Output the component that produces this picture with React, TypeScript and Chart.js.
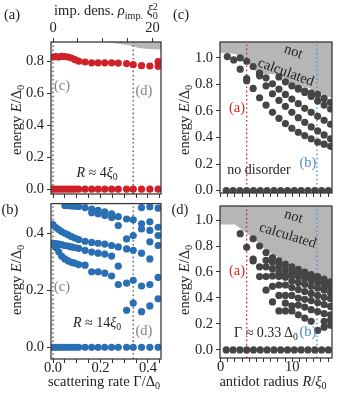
import React, { useEffect, useRef } from 'react';
import { Chart, registerables } from 'chart.js';
Chart.register(...registerables);

const SERIF = '"Liberation Serif", "DejaVu Serif", serif';
const RED = '#cf2129';
const BLUE = '#2a6fb4';
const DARK = '#454545';
const GRAY_FILL = '#b6b6b6';
const LINE_RED = '#d62728';
const LINE_BLUE = '#4a8dcc';
const LINE_DARK = '#555555';

// ---------- (a), (b): scattering rate Γ/Δ0 ----------
const GAMMA = [0, 0.012, 0.024, 0.036, 0.05, 0.064, 0.078, 0.092, 0.108, 0.135, 0.163, 0.19, 0.218, 0.247, 0.275, 0.31, 0.338, 0.373, 0.408, 0.443];
const ZERO_G = [0, 0, 0, 0, 0, 0, 0, 0, 0, 0, 0, 0, 0, 0, 0, 0, 0, 0, 0, 0];
const A_UPPER = [0.826, 0.828, 0.826, 0.83, 0.829, 0.826, 0.82, 0.81, 0.8, 0.795, 0.79, 0.79, 0.79, 0.79, 0.788, 0.785, 0.778, 0.772, 0.77, 0.768];
const A_EXTRA_G = [0.443];
const A_EXTRA_E = [0.797];
const A_CUT_G = [0.2, 0.225, 0.26, 0.3, 0.32, 0.34, 0.36, 0.4, 0.47];
const A_CUT_E = [0.925, 0.918, 0.912, 0.905, 0.9, 0.893, 0.882, 0.876, 0.872];
const GAMMA_MARKS = [0, 0.338];

const B_T1 = [null, null, null, null, 0.497, 0.497, 0.496, 0.495, 0.494, 0.49, 0.485, 0.48, 0.475, 0.468, 0.458];
const B_T2 = [null, null, null, null, null, null, null, null, null, null, 0.472, 0.468, 0.462, 0.455, 0.427];
const B_P = [0.43, 0.42, 0.413, 0.406, 0.4, 0.394, 0.388, 0.383, 0.378, 0.372, 0.368, 0.365, 0.362, 0.357, 0.352];
const B_Q = [0.365, 0.364, 0.362, 0.36, 0.357, 0.355, 0.352, 0.35, 0.347, 0.34, 0.334, 0.33, 0.327, 0.32, 0.285];
const B_R = [0.36, 0.35, 0.335, 0.32, 0.31, 0.303, 0.298, 0.295, 0.29, 0.288, 0.265, 0.265, 0.26, 0.25, 0.22];
const B_RIGHT_G = [0.31, 0.338, 0.373, 0.408, 0.443];
const B_RIGHT_E = [
  [0.45, 0.38, 0.345, 0.225, 0.13],
  [0.447, 0.392, 0.34, 0.235, 0.155],
  [0.49, 0.433, 0.415, 0.33, 0.215, 0.125],
  [0.493, 0.44, 0.41, 0.37, 0.31, 0.22, 0.145],
  [0.488, 0.421, 0.392, 0.357, 0.245, 0.17],
];

// ---------- (c), (d): antidot radius R/ξ0 ----------
const R_COLS = [0.95, 1.85, 2.75, 3.65, 4.55, 5.45, 6.35, 7.25, 8.15, 9.05, 9.95, 10.85, 11.75, 12.65, 13.55, 14.45, 15.35];
const R_ZERO = [0.8, 1.75, 2.7, 3.65, 4.6, 5.55, 6.5, 7.45, 8.4, 9.35, 10.3, 11.25, 12.2, 13.15, 14.1, 15.05];
const ZERO_R = [0, 0, 0, 0, 0, 0, 0, 0, 0, 0, 0, 0, 0, 0, 0, 0];
const C_A = [1.01, 0.985, 0.915, 0.845, 0.77, 0.7, 0.645, 0.59, 0.545, 0.505, 0.47, 0.44, 0.415, 0.39, 0.365, 0.35, 0.334];
const C_B = [null, null, 1.0, 0.975, 0.935, 0.865, 0.79, 0.73, 0.68, 0.635, 0.59, 0.55, 0.515, 0.48, 0.45, 0.42, 0.39];
const C_C = [null, null, null, null, null, 0.885, 0.85, 0.805, 0.765, 0.725, 0.69, 0.655, 0.62, 0.59, 0.56, 0.53, 0.5];
const C_D = [null, null, null, null, null, null, null, null, 0.857, 0.82, 0.79, 0.765, 0.74, 0.71, 0.675, 0.645, 0.615];
const C_E = [null, null, null, null, null, null, null, null, null, null, null, 0.77, 0.75, 0.735, 0.725, 0.695, 0.665];
const C_EXTRA_R = [3.65];
const C_EXTRA_E = [0.828];
const C_CUT_R = [-0.2, 1.2, 2.0, 2.8, 3.5, 4.2, 4.9, 5.3, 8.5, 9.3, 10.3, 10.5, 12.4, 13.0, 14.0, 14.3, 15.8];
const C_CUT_E = [1.04, 1.035, 1.03, 1.015, 0.99, 0.95, 0.9, 0.88, 0.875, 0.81, 0.8, 0.785, 0.775, 0.75, 0.74, 0.715, 0.7];

const D_COL_R = [2.75, 3.65, 4.55, 5.45, 6.35, 7.25, 8.15, 9.05, 9.95, 10.85, 11.75, 12.65, 13.55, 14.45, 15.35];
const D_COL_E = [
  [0.895],
  [0.79],
  [0.855, 0.7, 0.685],
  [0.8, 0.64, 0.565],
  [0.75, 0.69, 0.64, 0.565, 0.46],
  [0.71, 0.675, 0.625, 0.57, 0.49, 0.37],
  [0.685, 0.645, 0.6, 0.565, 0.5, 0.42, 0.3],
  [0.66, 0.62, 0.58, 0.56, 0.5, 0.42, 0.36, 0.3],
  [0.64, 0.6, 0.575, 0.53, 0.48, 0.42, 0.34, 0.3],
  [0.62, 0.595, 0.565, 0.52, 0.465, 0.4, 0.345, 0.27],
  [0.6, 0.58, 0.55, 0.505, 0.45, 0.39, 0.33, 0.245],
  [0.58, 0.565, 0.535, 0.49, 0.435, 0.38, 0.31, 0.22],
  [0.565, 0.55, 0.52, 0.475, 0.42, 0.365, 0.295, 0.15],
  [0.545, 0.53, 0.5, 0.46, 0.405, 0.35, 0.28, 0.22, 0.175],
  [0.525, 0.51, 0.48, 0.44, 0.395, 0.335, 0.27, 0.23, 0.19],
];
const D_CUT_R = [-0.2, 2.0, 2.4, 3.0, 4.4, 6.3, 8.2, 10.5, 13.3, 15.8];
const D_CUT_E = [0.965, 0.965, 0.95, 0.925, 0.87, 0.77, 0.705, 0.64, 0.578, 0.535];
const R_MARK_RED = 3.65;
const R_MARK_BLUE = 13.45;

// ---------- helpers ----------
type Pt = { x: number; y: number };
function pts(xs: number[], ys: (number | null)[]): Pt[] {
  const out: Pt[] = [];
  xs.forEach((x, i) => {
    const y = ys[i];
    if (y !== null && y !== undefined) out.push({ x, y });
  });
  return out;
}
function colPts(xs: number[], yss: number[][]): Pt[] {
  const out: Pt[] = [];
  xs.forEach((x, i) => yss[i].forEach((y) => out.push({ x, y })));
  return out;
}
const dots = (data: Pt[], color: string) => ({
  data, showLine: false, pointRadius: 3.6, pointHoverRadius: 3.6, pointBorderWidth: 0,
  pointBackgroundColor: color, borderColor: color, backgroundColor: color, order: 1,
});
const vline = (x: number, y0: number, y1: number, color: string) => ({
  data: [{ x, y: y0 }, { x, y: y1 }], showLine: true, pointRadius: 0, borderColor: color,
  borderWidth: 1.3, borderDash: [1.6, 2.6], fill: false, order: 2,
});
const region = (data: Pt[]) => ({
  data, showLine: true, pointRadius: 0, borderWidth: 0, borderColor: 'rgba(0,0,0,0)',
  backgroundColor: GRAY_FILL, fill: 'end', tension: 0, order: 3,
});

const framePlugin = {
  id: 'frame',
  afterDraw(chart: any) {
    const { ctx, chartArea: a } = chart;
    ctx.save();
    ctx.strokeStyle = '#3a3a3a';
    ctx.lineWidth = 1.3;
    ctx.strokeRect(a.left, a.top, a.right - a.left, a.bottom - a.top);
    ctx.restore();
  },
};

function axis(o: any) {
  return {
    type: 'linear', position: o.pos, min: o.min, max: o.max, display: true,
    border: { display: false },
    grid: { drawOnChartArea: false, drawTicks: true, tickLength: o.tick ?? 4, color: '#333', tickColor: '#333', tickWidth: 1 },
    ticks: {
      stepSize: o.step, includeBounds: false, autoSkip: false, maxRotation: 0, minRotation: 0,
      maxTicksLimit: 100, padding: o.pad ?? 3, color: '#222',
      font: { family: SERIF, size: 14.5, lineHeight: 1 }, callback: o.fmt,
    },
    afterFit: (s: any) => {
      if (s.isHorizontal()) s.height = o.size; else s.width = o.size;
      s.paddingLeft = 0; s.paddingRight = 0; s.paddingTop = 0; s.paddingBottom = 0;
    },
  };
}
const fmt1 = (v: number) => v.toFixed(1);
const none = () => '';
const fmtGamma = (v: number) => (Math.abs(v * 5 - Math.round(v * 5)) < 1e-6 ? v.toFixed(1) : '');
const fmtRho = (v: number) => (Math.abs(v) < 1e-9 || Math.abs(v - 20) < 1e-9 ? String(Math.round(v)) : '');
const fmtR = (v: number) => (Math.abs(v) < 1e-9 || Math.abs(v - 10) < 1e-9 ? String(Math.round(v)) : '');

function makeConfig(datasets: any[], scales: any, padding: any) {
  return {
    type: 'line',
    data: { datasets },
    options: {
      animation: false, responsive: false, devicePixelRatio: 1, events: [],
      layout: { padding },
      plugins: { legend: { display: false }, tooltip: { enabled: false } },
      scales,
    },
    plugins: [framePlugin],
  } as any;
}

const G_MIN = -0.0085, G_MAX = 0.455;
const RHO_PER_G = 20 / 0.419;
const R_MIN = -0.07, R_MAX = 15.55;

function configA() {
  const yMin = -0.03, yMax = 0.92;
  return makeConfig(
    [
      region(pts(A_CUT_G, A_CUT_E)),
      ...GAMMA_MARKS.map((g) => vline(g, yMin, yMax, LINE_DARK)),
      dots(pts(GAMMA, ZERO_G), RED),
      dots(pts(GAMMA, A_UPPER), RED),
      dots(pts(A_EXTRA_G, A_EXTRA_E), RED),
    ],
    {
      x: axis({ pos: 'bottom', min: G_MIN, max: G_MAX, step: 0.05, size: 6, fmt: none }),
      x2: axis({ pos: 'top', min: G_MIN * RHO_PER_G, max: G_MAX * RHO_PER_G, step: 5, size: 42, pad: 3, fmt: fmtRho }),
      y: axis({ pos: 'left', min: yMin, max: yMax, step: 0.2, size: 51, fmt: fmt1 }),
    },
    { left: 0, right: 9, top: 0, bottom: 0 }
  );
}

function configB() {
  const yMin = -0.041, yMax = 0.504;
  return makeConfig(
    [
      ...GAMMA_MARKS.map((g) => vline(g, yMin, yMax, LINE_DARK)),
      dots(pts(GAMMA, ZERO_G), BLUE),
      dots(pts(GAMMA, B_T1), BLUE),
      dots(pts(GAMMA, B_T2), BLUE),
      dots(pts(GAMMA, B_P), BLUE),
      dots(pts(GAMMA, B_Q), BLUE),
      dots(pts(GAMMA, B_R), BLUE),
      dots(colPts(B_RIGHT_G, B_RIGHT_E), BLUE),
    ],
    {
      x: axis({ pos: 'bottom', min: G_MIN, max: G_MAX, step: 0.05, size: 41, pad: -2, fmt: fmtGamma }),
      y: axis({ pos: 'left', min: yMin, max: yMax, step: 0.2, size: 51, fmt: fmt1 }),
    },
    { left: 0, right: 9, top: 3, bottom: 0 }
  );
}

function configC() {
  const yMin = -0.018, yMax = 1.12;
  return makeConfig(
    [
      region(pts(C_CUT_R, C_CUT_E)),
      vline(R_MARK_RED, yMin, yMax, LINE_RED),
      vline(R_MARK_BLUE, yMin, yMax, LINE_BLUE),
      dots(pts(R_ZERO, ZERO_R), DARK),
      dots(pts(R_COLS, C_A), DARK),
      dots(pts(R_COLS, C_B), DARK),
      dots(pts(R_COLS, C_C), DARK),
      dots(pts(R_COLS, C_D), DARK),
      dots(pts(R_COLS, C_E), DARK),
      dots(pts(C_EXTRA_R, C_EXTRA_E), DARK),
    ],
    {
      x: axis({ pos: 'bottom', min: R_MIN, max: R_MAX, step: 1, size: 7, fmt: none }),
      y: axis({ pos: 'left', min: yMin, max: yMax, step: 0.2, size: 50, fmt: fmt1 }),
    },
    { left: 0, right: 8, top: 42, bottom: 0 }
  );
}

function configD() {
  const yMin = -0.062, yMax = 1.108;
  return makeConfig(
    [
      region(pts(D_CUT_R, D_CUT_E)),
      vline(R_MARK_RED, yMin, yMax, LINE_RED),
      vline(R_MARK_BLUE, yMin, yMax, LINE_BLUE),
      dots(pts(R_ZERO, ZERO_R), DARK),
      dots(colPts(D_COL_R, D_COL_E), DARK),
    ],
    {
      x: axis({ pos: 'bottom', min: R_MIN, max: R_MAX, step: 1, size: 42, pad: -2, fmt: fmtR }),
      y: axis({ pos: 'left', min: yMin, max: yMax, step: 0.2, size: 50, fmt: fmt1 }),
    },
    { left: 0, right: 8, top: 6, bottom: 0 }
  );
}

function ChartCanvas({ left, top, width, height, make }: any) {
  const ref = useRef<HTMLCanvasElement>(null);
  useEffect(() => {
    const chart = new Chart(ref.current as HTMLCanvasElement, make());
    return () => chart.destroy();
  }, []);
  return <canvas ref={ref} width={width} height={height} style={{ position: 'absolute', left, top, width, height }} />;
}

function T({ x, y, children, color = '#222', size = 14.5, rot = 0, style = {} }: any) {
  return (
    <div
      style={{
        position: 'absolute', left: x, top: y, transform: `translate(-50%, -50%) rotate(${rot}deg)`,
        whiteSpace: 'nowrap', fontFamily: SERIF, fontSize: size, color, lineHeight: 1, ...style,
      }}
    >
      {children}
    </div>
  );
}
const Sub = ({ c }: any) => <span style={{ fontSize: '0.7em', position: 'relative', top: '0.3em' }}>{c}</span>;
const EnergyLabel = () => (
  <span>energy <i>E</i>/Δ<Sub c="0" /></span>
);

export default function App() {
  return (
    <div style={{ position: 'absolute', left: 0, top: 0, width: 340, height: 400, background: '#fff', overflow: 'hidden' }}>
      <ChartCanvas left={0} top={0} width={170} height={200} make={configA} />
      <ChartCanvas left={0} top={200} width={170} height={200} make={configB} />
      <ChartCanvas left={170} top={0} width={170} height={200} make={configC} />
      <ChartCanvas left={170} top={200} width={170} height={200} make={configD} />

      {/* panel letters */}
      <T x={12} y={14}>(a)</T>
      <T x={10} y={209}>(b)</T>
      <T x={181} y={14}>(c)</T>
      <T x={180} y={209}>(d)</T>

      {/* axis titles */}
      <T x={106} y={12}>
        imp. dens. <i>ρ</i><Sub c="imp." />{' '}
        <i>ξ</i>
        <span style={{ display: 'inline-flex', flexDirection: 'column', fontSize: '0.7em', lineHeight: 0.9, verticalAlign: 'middle', position: 'relative', top: '-0.1em' }}>
          <span>2</span><span>0</span>
        </span>
      </T>
      <T x={16} y={120} rot={-90}><EnergyLabel /></T>
      <T x={16} y={280} rot={-90}><EnergyLabel /></T>
      <T x={184} y={120} rot={-90}><EnergyLabel /></T>
      <T x={184} y={280} rot={-90}><EnergyLabel /></T>
      <T x={104} y={381}>scattering rate Γ/Δ<Sub c="0" /></T>
      <T x={273} y={381}>antidot radius <i>R</i>/<i>ξ</i><Sub c="0" /></T>

      {/* annotations (a) */}
      <T x={62} y={85} color="#808080">(c)</T>
      <T x={144} y={90} color="#808080">(d)</T>
      <T x={97} y={173} size={14}><i>R</i> ≈ 4<i>ξ</i><Sub c="0" /></T>

      {/* annotations (b) */}
      <T x={62} y={286} color="#808080">(c)</T>
      <T x={144} y={330} color="#808080">(d)</T>
      <T x={97} y={323} size={14}><i>R</i> ≈ 14<i>ξ</i><Sub c="0" /></T>

      {/* annotations (c) */}
      <T x={237} y={107} color={LINE_RED}>(a)</T>
      <T x={308} y={162} color={LINE_BLUE}>(b)</T>
      <T x={259} y={170} size={14}>no disorder</T>
      <T x={290} y={61} rot={20} style={{ textAlign: 'center', lineHeight: '22px' }}>not<br />calculated</T>

      {/* annotations (d) */}
      <T x={237} y={270} color={LINE_RED}>(a)</T>
      <T x={308} y={331} color={LINE_BLUE}>(b)</T>
      <T x={266} y={333} size={14}>Γ ≈ 0.33 Δ<Sub c="0" /></T>
      <T x={291} y={225} rot={17} style={{ textAlign: 'center', lineHeight: '20px' }}>not<br />calculated</T>
    </div>
  );
}
